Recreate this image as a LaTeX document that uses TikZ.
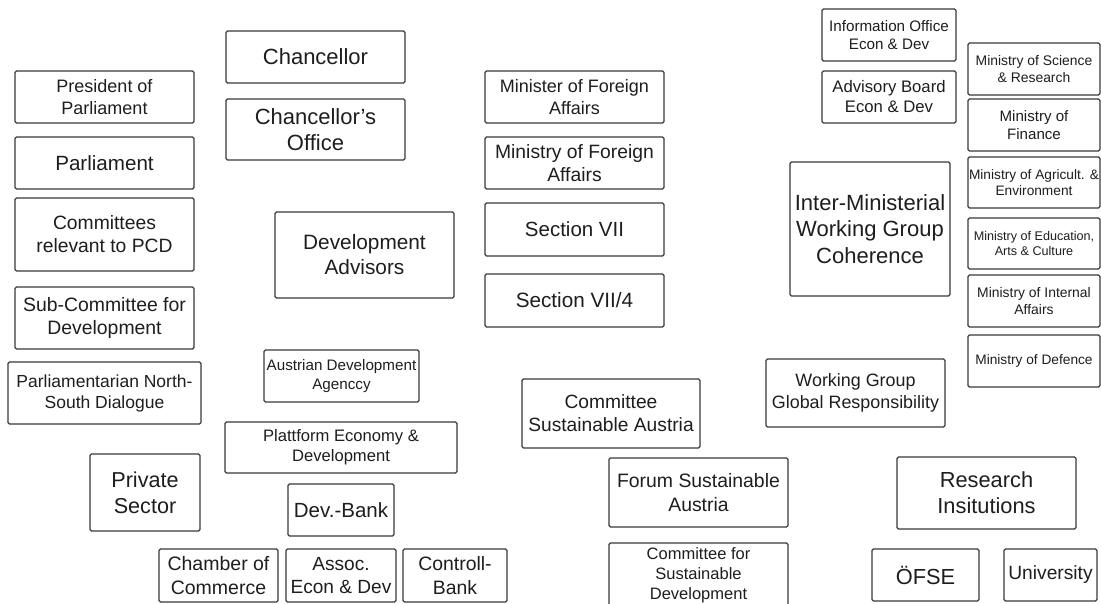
\documentclass[tikz,border=0pt]{standalone}
\usepackage{fontspec}
\setmainfont{Liberation Sans}
\definecolor{edgecol}{HTML}{3A3A3A}
\definecolor{txtcol}{HTML}{1E1E1E}
\tikzset{box/.style={draw=edgecol, line width=1.2pt, rounded corners=1.5pt, inner sep=0pt, align=center, text=txtcol}}
\newcommand{\bx}[7]{%
  \pgfmathsetmacro{\lsk}{1.2*#6}%
  \pgfmathsetmacro{\bxcx}{(#2+#4)/2}%
  \pgfmathsetmacro{\bxcy}{(#3+#5)/2}%
  \pgfmathsetmacro{\bxw}{#4-#2}%
  \pgfmathsetmacro{\bxh}{#5-#3}%
  \node[box, minimum width=\bxw pt, minimum height=\bxh pt, font=\fontsize{#6}{\lsk}\selectfont] (#1) at (\bxcx,\bxcy) {#7};}
\begin{document}
\begin{tikzpicture}[x=1pt,y=-1pt]
\useasboundingbox[fill=white] (0,0) rectangle (1101,603);
% left column
\bx{pres}{15}{71}{194}{123}{18}{President of\\Parliament}
\bx{parl}{15}{137}{194}{189}{20.6}{Parliament}
\bx{comm}{15}{198}{194}{271}{19.3}{Committees\\relevant to PCD}
\bx{subc}{15}{287}{194}{349}{19.4}{Sub-Committee for\\Development}
\bx{pnsd}{8}{362}{201}{424}{17.5}{Parliamentarian North-\\South Dialogue}
\bx{priv}{90}{454}{200}{531}{21.6}{Private\\Sector}
\bx{chamber}{159}{549}{278}{602}{19.5}{Chamber of\\Commerce}
% chancellor column
\bx{chan}{226}{31}{405}{83}{22}{Chancellor}
\bx{chof}{226}{99}{405}{160}{22}{Chancellor’s\\Office}
\bx{devadv}{275}{212}{454}{298}{20.8}{Development\\Advisors}
\bx{ada}{264}{350}{419}{402}{15.2}{Austrian Development\\Agenccy}
\bx{plat}{225}{422}{457}{473}{16.6}{Plattform Economy \&\\Development}
\bx{devbank}{288}{484}{394}{536}{20.5}{Dev.-Bank}
\bx{assoc}{286}{549}{396}{602}{19.1}{Assoc.\\Econ \& Dev}
\bx{controll}{403}{549}{507}{602}{19.4}{Controll-\\Bank}
% foreign affairs column
\bx{mfa}{485}{71}{664}{123}{18}{Minister of Foreign\\Affairs}
\bx{mofa}{485}{137}{664}{189}{19.3}{Ministry of Foreign\\Affairs}
\bx{s7}{485}{203}{664}{256}{20.5}{Section VII}
\bx{s74}{485}{274}{664}{327}{20.7}{Section VII/4}
% sustainability
\bx{csa}{522}{379}{700}{448}{19.2}{Committee\\Sustainable Austria}
\bx{fsa}{609}{458}{788}{527}{19.4}{Forum Sustainable\\Austria}
\bx{csd}{609}{543}{788}{607}{16.5}{Committee for\\Sustainable\\Development}
% right part
\bx{info}{822}{9}{956}{61}{15.2}{Information Office\\Econ \& Dev}
\bx{adv}{822}{71}{956}{123}{16.7}{Advisory Board\\Econ \& Dev}
\bx{imwg}{790}{162}{950}{296}{22}{Inter-Ministerial\\Working Group\\Coherence}
\bx{wggr}{766}{359}{945}{427}{17.9}{Working Group\\Global Responsibility}
\bx{msr}{968}{43}{1100}{95}{13.9}{Ministry of Science\\\& Research}
\bx{mfin}{968}{99}{1100}{151}{15.1}{Ministry of\\Finance}
\bx{magr}{968}{157}{1100}{208}{13.7}{Ministry of Agricult. \&\\Environment}
\bx{medu}{968}{218}{1100}{269}{12.6}{Ministry of Education,\\Arts \& Culture}
\bx{mint}{968}{275}{1100}{327}{13.9}{Ministry of Internal\\Affairs}
\bx{mdef}{968}{335}{1100}{387}{13.7}{Ministry of Defence}
\bx{research}{897}{457}{1076}{529}{21.8}{Research\\Insitutions}
\bx{ofse}{872}{549}{979}{601}{21.8}{ÖFSE}
\bx{univ}{1004}{549}{1097}{601}{19.2}{University}
\end{tikzpicture}
\end{document}
